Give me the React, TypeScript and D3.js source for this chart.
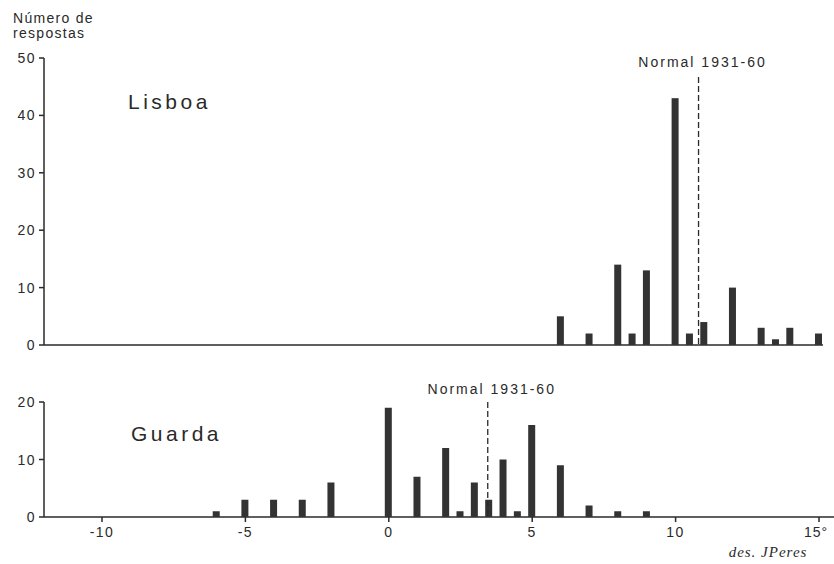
import React, { useEffect, useRef } from 'react';
import * as d3 from 'd3';

// Lisboa
const lisboaTemps = [6, 7, 8, 8.5, 9, 10, 10.5, 11, 12, 13, 13.5, 14, 15];
const lisboaCounts = [5, 2, 14, 2, 13, 43, 2, 4, 10, 3, 1, 3, 2];
const lisboaNormal = 10.8;
const lisboaTicks = [0, 10, 20, 30, 40, 50];

// Guarda
const guardaTemps = [-6, -5, -4, -3, -2, 0, 1, 2, 2.5, 3, 3.5, 4, 4.5, 5, 6, 7, 8, 9];
const guardaCounts = [1, 3, 3, 3, 6, 19, 7, 12, 1, 6, 3, 10, 1, 16, 9, 2, 1, 1];
const guardaNormal = 3.45;
const guardaTicks = [0, 10, 20];

const xTicks = [-10, -5, 0, 5, 10, 15];
const xTickLabels = ['-10', '-5', '0', '5', '10', '15°'];

const W = 834;
const H = 564;
const ink = '#2a2a2a';
const font = 'Liberation Sans, Arial, sans-serif';

const App = () => {
  const ref = useRef(null);

  useEffect(() => {
    const svg = d3.select(ref.current);
    svg.selectAll('*').remove();

    const x = d3.scaleLinear().domain([-10, 15]).range([102, 819]);
    const axisX = 44;

    const panel = (opts) => {
      const { temps, counts, normal, ticks, y, title, titleX, titleY, lineEnd, normalTop, labelY, showX } = opts;
      const g = svg.append('g');
      const y0 = y(0);

      // left axis
      g.append('line')
        .attr('x1', axisX).attr('x2', axisX)
        .attr('y1', y(d3.max(ticks))).attr('y2', y0)
        .attr('stroke', ink).attr('stroke-width', 1.5);
      ticks.forEach(t => {
        g.append('line')
          .attr('x1', axisX - 5).attr('x2', axisX)
          .attr('y1', y(t)).attr('y2', y(t))
          .attr('stroke', ink).attr('stroke-width', 1.5);
        g.append('text')
          .attr('x', axisX - 8).attr('y', y(t) + 5)
          .attr('text-anchor', 'end')
          .attr('font-family', font).attr('font-size', 14)
          .attr('letter-spacing', 1.5)
          .attr('fill', ink)
          .text(t);
      });

      // baseline
      g.append('line')
        .attr('x1', axisX).attr('x2', lineEnd)
        .attr('y1', y0).attr('y2', y0)
        .attr('stroke', ink).attr('stroke-width', 1.5);

      if (showX) {
        xTicks.forEach((t, i) => {
          const last = i === xTicks.length - 1;
          g.append('line')
            .attr('x1', x(t)).attr('x2', x(t))
            .attr('y1', y0).attr('y2', y0 + 5)
            .attr('stroke', ink).attr('stroke-width', 1.5);
          g.append('text')
            .attr('x', last ? x(t) - 15 : x(t)).attr('y', y0 + 20)
            .attr('text-anchor', last ? 'start' : 'middle')
            .attr('font-family', font).attr('font-size', 14)
            .attr('letter-spacing', last ? 1 : 1.5)
            .attr('fill', ink)
            .text(xTickLabels[i]);
        });
      }

      // bars
      const bw = 7;
      g.selectAll('rect.bar')
        .data(temps.map((t, i) => ({ t, c: counts[i] })))
        .enter()
        .append('rect')
        .attr('x', d => x(d.t) - bw / 2 - 0.5)
        .attr('y', d => y(d.c))
        .attr('width', bw)
        .attr('height', d => y0 - y(d.c))
        .attr('fill', '#333');

      // normal line
      g.append('line')
        .attr('x1', x(normal)).attr('x2', x(normal))
        .attr('y1', normalTop).attr('y2', y0)
        .attr('stroke', ink).attr('stroke-width', 1.3)
        .attr('stroke-dasharray', '6,3');
      g.append('text')
        .attr('x', x(normal) + 4).attr('y', labelY)
        .attr('text-anchor', 'middle')
        .attr('font-family', font).attr('font-size', 14)
        .attr('letter-spacing', 2)
        .attr('fill', ink)
        .text('Normal 1931-60');

      // title
      g.append('text')
        .attr('x', titleX).attr('y', titleY)
        .attr('font-family', font).attr('font-size', 21)
        .attr('letter-spacing', 3.5)
        .attr('fill', ink)
        .text(title);
    };

    panel({
      temps: lisboaTemps, counts: lisboaCounts, normal: lisboaNormal, ticks: lisboaTicks,
      y: d3.scaleLinear().domain([0, 50]).range([345, 58]),
      title: 'Lisboa', titleX: 128, titleY: 109, lineEnd: 823, normalTop: 77, labelY: 67, showX: false
    });
    panel({
      temps: guardaTemps, counts: guardaCounts, normal: guardaNormal, ticks: guardaTicks,
      y: d3.scaleLinear().domain([0, 20]).range([517, 402]),
      title: 'Guarda', titleX: 131, titleY: 441, lineEnd: 834, normalTop: 402, labelY: 394, showX: true
    });

    // y title
    const yt = svg.append('text')
      .attr('font-family', font).attr('font-size', 14)
      .attr('letter-spacing', 1.3)
      .attr('fill', ink);
    yt.append('tspan').attr('x', 13).attr('y', 23).text('Número de');
    yt.append('tspan').attr('x', 13).attr('y', 38).text('respostas');

    // signature
    svg.append('text')
      .attr('x', 768).attr('y', 557)
      .attr('text-anchor', 'middle')
      .attr('font-family', 'Liberation Serif, serif').attr('font-style', 'italic')
      .attr('font-size', 15)
      .attr('letter-spacing', 1)
      .attr('fill', ink)
      .text('des. JPeres');
  }, []);

  return (
    <svg ref={ref} width={W} height={H}
      style={{ position: 'absolute', left: 0, top: 0, background: '#fff' }} />
  );
};

export default App;
